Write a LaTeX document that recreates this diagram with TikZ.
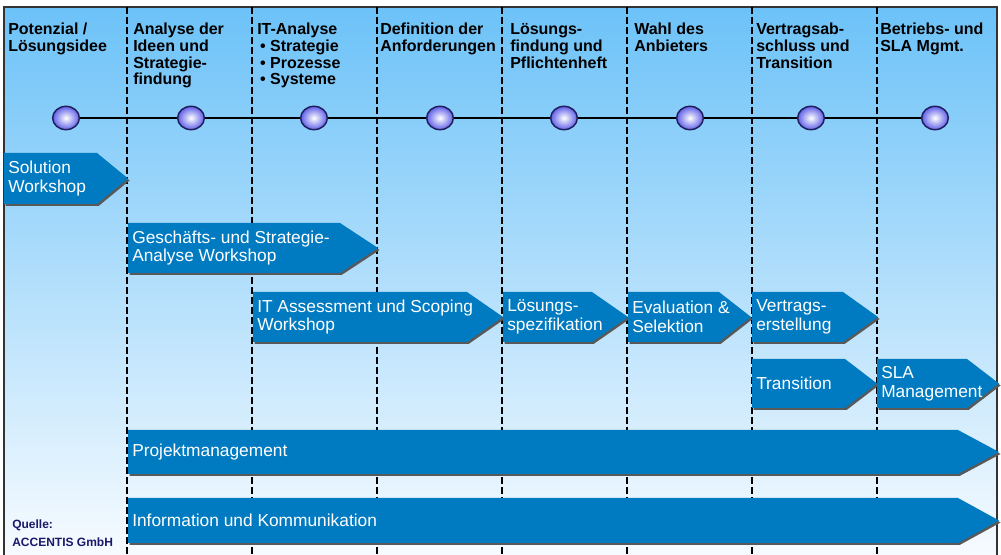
\documentclass[tikz,border=0pt]{standalone}
\usepackage{fontspec}
\setmainfont{Liberation Sans}
\usetikzlibrary{shapes.geometric,shadows}
\definecolor{bgtop}{RGB}{108,194,248}
\definecolor{bgbottom}{RGB}{247,251,255}
\definecolor{phaseblue}{RGB}{0,123,193}
\definecolor{ballblue}{RGB}{95,95,232}
\definecolor{balledge}{RGB}{30,30,90}
\definecolor{quellecol}{RGB}{25,25,105}
\tikzset{
	column head/.style = {anchor=base west, inner sep=0pt, align=left, font=\fontsize{12}{12.6}\selectfont\bfseries},
	milestone/.style = {ellipse, draw=balledge, line width=1.1pt, minimum width=20pt, minimum height=17.5pt, inner sep=0pt, inner color=white, outer color=ballblue},
	phase/.style = {fill=phaseblue, drop shadow={shadow xshift=1.2pt, shadow yshift=-1.5pt, fill=black!65, opacity=1}},
	phase text/.style = {anchor=west, inner xsep=3pt, inner ysep=0pt, align=left, text=white, font=\fontsize{13}{14}\selectfont},
	phase line/.style = {dash pattern=on 5pt off 2.5pt, line width=1.4pt}
}

\begin{document}
\begin{tikzpicture}[x=0.75pt, y=-0.75pt]
    \useasboundingbox (0,0) rectangle (1001,555);
    % Background
    \fill[top color=bgtop, bottom color=bgbottom] (4,7) rectangle (997,555);
    \draw[line width=1pt, black!80] (4,555) -- (4,7) -- (997,7) -- (997,555);

    % Column separators
    \draw[phase line] (127,7) -- (127,555) (252,7) -- (252,555) (377,7) -- (377,555)
        (502,7) -- (502,555) (627,7) -- (627,555) (752,7) -- (752,555) (877,7) -- (877,555);

    % Column heads (placed at the baseline of their last line)
    \node[column head] (potenzial) at (8,51.3) {Potenzial /\\Lösungsidee};
    \node[column head] (analyse) at (133,84.9) {Analyse der\\Ideen und\\Strategie-\\findung};
    \node[column head] (itanalyse) at (257,84.9) {IT-Analyse\\\hspace{2.2pt}• Strategie\\\hspace{2.2pt}• Prozesse\\\hspace{2.2pt}• Systeme};
    \node[column head] (definition) at (380,51.3) {Definition der\\Anforderungen};
    \node[column head] (loesung) at (510,68.1) {Lösungs-\\findung und\\Pflichtenheft};
    \node[column head] (wahl) at (634,51.3) {Wahl des\\Anbieters};
    \node[column head] (vertrag) at (756,68.1) {Vertragsab-\\schluss und\\Transition};
    \node[column head] (betrieb) at (880,51.3) {Betriebs- und\\SLA Mgmt.};

    % Milestones
    \node[milestone] (m1) at (66,118) {};
    \node[milestone] (m2) at (191,118) {};
    \node[milestone] (m3) at (314,118) {};
    \node[milestone] (m4) at (440,118) {};
    \node[milestone] (m5) at (564,118) {};
    \node[milestone] (m6) at (690,118) {};
    \node[milestone] (m7) at (811,118) {};
    \node[milestone] (m8) at (935,118) {};
    \draw[line width=2pt] (m1) -- (m2) (m2) -- (m3) (m3) -- (m4) (m4) -- (m5)
        (m5) -- (m6) (m6) -- (m7) (m7) -- (m8);

    % Phases
    \path[phase] (4,153) -- (97,153) -- (128,178.5) -- (97,204) -- (4,204) -- cycle;
    \path[phase] (128,223) -- (340,223) -- (378,248) -- (340,273) -- (128,273) -- cycle;
    \path[phase] (253,292) -- (467,292) -- (503,317) -- (467,342) -- (253,342) -- cycle;
    \path[phase] (503,292) -- (592,292) -- (628,317) -- (592,342) -- (503,342) -- cycle;
    \path[phase] (628,292) -- (719,292) -- (751,317) -- (719,342) -- (628,342) -- cycle;
    \path[phase] (752,292) -- (843,292) -- (878,317) -- (843,342) -- (752,342) -- cycle;
    \path[phase] (752,359) -- (845,359) -- (877,383.5) -- (845,408) -- (752,408) -- cycle;
    \path[phase] (877,359) -- (967,359) -- (999,383.5) -- (967,408) -- (877,408) -- cycle;
    \path[phase] (128,430) -- (958,430) -- (999,452) -- (958,474) -- (128,474) -- cycle;
    \path[phase] (128,498) -- (958,498) -- (999,520.5) -- (958,543) -- (128,543) -- cycle;

    \node[phase text] (solution) at (4,178.5) {Solution\\Workshop};
    \node[phase text] (geschaeft) at (128,248) {Geschäfts- und Strategie-\\Analyse Workshop};
    \node[phase text] (assessment) at (253,317) {IT Assessment und Scoping\\Workshop};
    \node[phase text] (spezifikation) at (503,317) {Lösungs-\\spezifikation};
    \node[phase text] (evaluation) at (628,317) {Evaluation \&\\Selektion};
    \node[phase text] (erstellung) at (752,317) {Vertrags-\\erstellung};
    \node[phase text] (transition) at (752,383.5) {Transition};
    \node[phase text] (sla) at (877,383.5) {SLA\\Management};
    \node[phase text] (projekt) at (128,452) {Projektmanagement};
    \node[phase text] (info) at (128,520.5) {Information und Kommunikation};

    % Source
    \node[anchor=base west, inner sep=0pt, align=left, text=quellecol, font=\fontsize{9}{14}\selectfont\bfseries] (quelle) at (12,546.7) {Quelle:\\ACCENTIS GmbH};
\end{tikzpicture}
\end{document}
